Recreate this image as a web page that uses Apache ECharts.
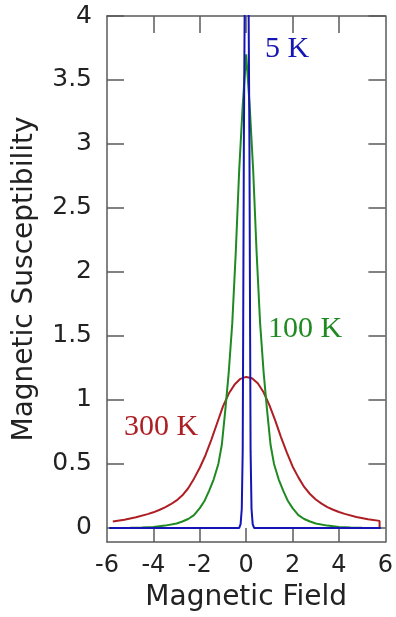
<!DOCTYPE html>
<html>
<head>
  <meta charset="utf-8" />
  <script src="https://cdn.jsdelivr.net/npm/echarts@6/dist/echarts.min.js"></script>
  <style>
    html, body { margin: 0; padding: 0; background: #fff; }
    #chart { width: 396px; height: 617px; }
  </style>
</head>
<body>
  <div id="chart"></div>
  <script>
    // 读图得到的数据 [磁场, 磁化率]
    const red300K = [
      [-5.75, 0.05], [-5.25, 0.064], [-4.75, 0.083], [-4.25, 0.108], [-4, 0.122],
      [-3.75, 0.14], [-3.5, 0.16], [-3.25, 0.185], [-3, 0.215], [-2.75, 0.255],
      [-2.5, 0.31], [-2.25, 0.385], [-2, 0.47], [-1.75, 0.57], [-1.5, 0.69],
      [-1.25, 0.82], [-1, 0.95], [-0.75, 1.05], [-0.5, 1.12], [-0.25, 1.165],
      [0, 1.18], [0.25, 1.17], [0.5, 1.13], [0.75, 1.06], [1, 0.96], [1.25, 0.84],
      [1.5, 0.71], [1.75, 0.59], [2, 0.48], [2.25, 0.395], [2.5, 0.32], [2.75, 0.265],
      [3, 0.222], [3.25, 0.19], [3.5, 0.163], [3.75, 0.142], [4, 0.124], [4.25, 0.11],
      [4.75, 0.086], [5.25, 0.068], [5.75, 0.055], [5.75, 0]
    ]
    const green100K = [
      [-5.9, 0], [-5, 0.001], [-4.5, 0.003], [-4, 0.008], [-3.5, 0.018], [-3, 0.035],
      [-2.75, 0.05], [-2.5, 0.07], [-2.25, 0.1], [-2, 0.155], [-1.8, 0.21], [-1.6, 0.29],
      [-1.4, 0.38], [-1.2, 0.5], [-1.05, 0.65], [-0.9, 0.92], [-0.75, 1.22], [-0.6, 1.6],
      [-0.45, 2.15], [-0.3, 2.8], [-0.15, 3.3], [0, 3.7],
      [0.15, 3.3], [0.3, 2.8], [0.45, 2.15], [0.6, 1.6], [0.75, 1.22], [0.9, 0.92],
      [1.05, 0.65], [1.2, 0.5], [1.4, 0.38], [1.6, 0.29], [1.8, 0.21], [2, 0.155],
      [2.25, 0.1], [2.5, 0.07], [2.75, 0.05], [3, 0.035], [3.5, 0.018], [4, 0.008],
      [4.5, 0.003], [5, 0.001], [5.8, 0]
    ]
    const blue5K = [
      [-5.9, 0], [-0.3, 0], [-0.24, 0.03], [-0.19, 0.15], [-0.15, 0.6], [-0.13, 1.5],
      [-0.1, 3], [-0.05, 4.5], [0.02, 12], [0.09, 4.5], [0.14, 3], [0.17, 1.5],
      [0.19, 0.6], [0.23, 0.15], [0.28, 0.03], [0.34, 0], [5.8, 0]
    ]
    const yTicks = [0, 0.5, 1, 1.5, 2, 2.5, 3, 3.5, 4]
    const xTicks = [-6, -4, -2, 0, 2, 4, 6]
    const yMin = -0.11
    const yMax = 4

    const axisGray = "#5a5a5a"
    const sans = "DejaVu Sans"
    const serif = "Liberation Serif"

    let chart = echarts.init(document.getElementById("chart"))

    const frame = {
      axisLine: { show: true, onZero: false, lineStyle: { color: axisGray, width: 1.5 } },
      splitLine: { show: false }
    }

    // x轴内刻度：用markLine按坐标轴画出（底部到0，顶部向下约0.13）
    const xTickMarks = []
    xTicks.slice(1, -1).forEach(x => {
      xTickMarks.push([{ coord: [x, yMin] }, { coord: [x, 0] }])
      xTickMarks.push([{ coord: [x, yMax] }, { coord: [x, yMax - 0.133] }])
    })

    chart.setOption({
      animation: false,
      grid: { left: 107, right: 9, top: 16, bottom: 75 },
      xAxis: [
        {
          type: "value", min: -6, max: 6, interval: 2, position: "bottom",
          ...frame,
          axisTick: { show: false },
          axisLabel: { customValues: xTicks, fontFamily: sans, fontSize: 24, color: "#222", margin: 12 },
          name: "Magnetic Field", nameLocation: "middle", nameGap: 42,
          nameTextStyle: { fontFamily: sans, fontSize: 28, color: "#222" }
        },
        {
          type: "value", min: -6, max: 6, interval: 2, position: "top",
          ...frame,
          axisTick: { show: false },
          axisLabel: { show: false }
        }
      ],
      yAxis: [
        {
          type: "value", min: yMin, max: yMax, position: "left",
          ...frame,
          axisTick: { show: true, inside: true, length: 17, customValues: yTicks,
            lineStyle: { color: axisGray, width: 1.5 } },
          axisLabel: { customValues: yTicks, fontFamily: sans, fontSize: 25, color: "#222",
            margin: 15 },
          name: "Magnetic Susceptibility", nameLocation: "middle", nameGap: 68, nameRotate: 90,
          nameTextStyle: { fontFamily: sans, fontSize: 28, color: "#222" }
        },
        {
          type: "value", min: yMin, max: yMax, position: "right",
          ...frame,
          axisTick: { show: true, inside: true, length: 17, customValues: yTicks,
            lineStyle: { color: axisGray, width: 1.5 } },
          axisLabel: { show: false }
        }
      ],
      series: [
        { name: "300 K", type: "line", data: red300K, showSymbol: false, z: 3,
          lineStyle: { color: "#ad1f24", width: 2 },
          markLine: {
            silent: true, symbol: "none", label: { show: false }, animation: false,
            lineStyle: { color: axisGray, width: 1.5, type: "solid" },
            data: xTickMarks
          } },
        { name: "100 K", type: "line", data: green100K, showSymbol: false, z: 4,
          lineStyle: { color: "#1f8a22", width: 2 } },
        { name: "5 K", type: "line", data: blue5K, showSymbol: false, z: 5,
          lineStyle: { color: "#1515b5", width: 2 } }
      ],
      graphic: [
        { type: "text", left: 265, top: 34,
          style: { text: "5 K", font: "30px " + serif, fill: "#1515b5" } },
        { type: "text", left: 268, top: 314,
          style: { text: "100 K", font: "30px " + serif, fill: "#1f8a22" } },
        { type: "text", left: 124, top: 412,
          style: { text: "300 K", font: "30px " + serif, fill: "#ad1f24" } }
      ]
    })
  </script>
</body>
</html>
